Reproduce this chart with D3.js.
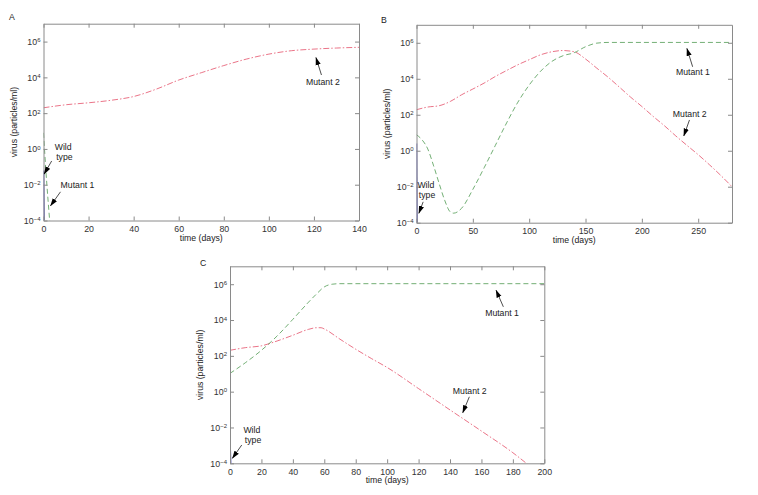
<!DOCTYPE html>
<html>
<head>
<meta charset="utf-8">
<script src="https://cdn.jsdelivr.net/npm/d3@7"></script>
<style>
  body { margin: 0; background: #fff; }
  svg { font-family: "Liberation Sans", Arial, Helvetica, sans-serif; }
  .tick text { fill: #333; font-size: 8.8px; }
  .lbl { fill: #222; font-size: 8.7px; }
</style>
</head>
<body>
<svg id="chart" width="758" height="495"></svg>
<script>
  // y tick exponents (10^n) shared by all panels
  const yExponents = [-4, -2, 0, 2, 4, 6];

  // Panel A : [day, log10 virus]
  const aTicks = [0, 20, 40, 60, 80, 100, 120, 140];
  const aWild = [[0, -1.2], [0.3, -4.1]];
  const aMutant1 = [[0, 0.9], [1, -1.1], [2.8, -4.1]];
  const aMutant2 = [[0, 2.30], [10, 2.47], [20, 2.58], [30, 2.72], [40, 2.93], [50, 3.34], [60, 3.85],
    [70, 4.26], [80, 4.66], [90, 5.02], [100, 5.30], [110, 5.49], [120, 5.58], [130, 5.64], [140, 5.68]];

  // Panel B
  const bTicks = [0, 50, 100, 150, 200, 250];
  const bWild = [[0, 0.4], [0.5, -4.1]];
  const bMutant1 = [[0, 0.89], [5, 0.6], [10, 0.1], [15, -0.8], [20, -1.8], [25, -2.75], [30, -3.4], [33, -3.47],
    [40, -3.2], [50, -2.15], [60, -0.95], [70, 0.3], [80, 1.55], [90, 2.7], [100, 3.65], [110, 4.41],
    [120, 4.96], [130, 5.28], [140, 5.45], [150, 5.78], [160, 5.98], [170, 6.02], [200, 6.02], [280, 6.02]];
  const bMutant2 = [[0, 2.28], [10, 2.43], [20, 2.50], [30, 2.74], [40, 3.11], [50, 3.43], [60, 3.76], [70, 4.13],
    [80, 4.46], [90, 4.78], [100, 5.06], [110, 5.33], [120, 5.50], [130, 5.57], [140, 5.50], [150, 5.10],
    [160, 4.59], [170, 4.09], [180, 3.54], [190, 2.98], [200, 2.46], [210, 1.91], [220, 1.39], [230, 0.83],
    [240, 0.30], [250, -0.22], [260, -0.78], [270, -1.37], [280, -2.0]];

  // Panel C
  const cTicks = [0, 20, 40, 60, 80, 100, 120, 140, 160, 180, 200];
  const cWild = [[0, -2.9], [0.5, -4.1]];
  const cMutant1 = [[0, 1.02], [10, 1.63], [20, 2.31], [30, 3.11], [40, 4.04], [50, 5.0], [55, 5.45], [60, 5.85],
    [65, 6.0], [70, 6.03], [80, 6.03], [200, 6.03]];
  const cMutant2 = [[0, 2.31], [10, 2.46], [20, 2.56], [30, 2.83], [40, 3.15], [50, 3.48], [55, 3.57], [58, 3.57],
    [60, 3.5], [70, 2.93], [80, 2.37], [90, 1.85], [100, 1.35], [120, 0.17], [140, -1.02], [160, -2.2],
    [180, -3.41], [190, -4.1]];

  const colors = { wild: "#6a6ac4", m1: "#4f9a52", m2: "#e4506a" };

  const panels = [
    { letter: "A", xMax: 140, ticks: aTicks, box: [43.5, 359, 23.7, 220.5], letterAt: [9, 20],
      series: { wild: aWild, m1: aMutant1, m2: aMutant2 },
      notes: [
        { lines: ["Wild", "type"], tip: [0.3, -1.4], tail: [7.5, -13], text: [19, -24] },
        { lines: ["Mutant 1"], tip: [3.1, -3.18], tail: [10, -14], text: [27, -17.5] },
        { lines: ["Mutant 2"], tip: [120.9, 5.11], tail: [5.5, 17.5], text: [7, 27.5] }
      ] },
    { letter: "B", xMax: 280, ticks: bTicks, box: [416.5, 732, 24.8, 222.7], letterAt: [381, 23],
      series: { wild: bWild, m1: bMutant1, m2: bMutant2 },
      notes: [
        { lines: ["Wild", "type"], tip: [2.1, -3.48], tail: [4.3, -11.5], text: [7, -25] },
        { lines: ["Mutant 1"], tip: [240, 5.69], tail: [5.7, 18.4], text: [6, 26.5] },
        { lines: ["Mutant 2"], tip: [237.2, 0.82], tail: [5.7, -16], text: [6, -18.7] }
      ] },
    { letter: "C", xMax: 200, ticks: cTicks, box: [230, 544.3, 266.3, 463.3], letterAt: [200, 266],
      series: { wild: cWild, m1: cMutant1, m2: cMutant2 },
      notes: [
        { lines: ["Wild", "type"], tip: [1.5, -3.72], tail: [9.4, -13.3], text: [19.5, -25] },
        { lines: ["Mutant 1"], tip: [169.3, 5.67], tail: [7.3, 16.7], text: [6, 26.3] },
        { lines: ["Mutant 2"], tip: [148.1, -1.18], tail: [6.6, -16], text: [7, -19] }
      ] }
  ];

  const svg = d3.select("#chart");

  svg.append("defs").append("marker")
    .attr("id", "arrow")
    .attr("markerUnits", "userSpaceOnUse")
    .attr("viewBox", "0 -3 8 6")
    .attr("refX", 7.5).attr("refY", 0)
    .attr("markerWidth", 8).attr("markerHeight", 6)
    .attr("orient", "auto")
    .append("path")
    .attr("d", "M0,-2.6L8,0L0,2.6Z")
    .attr("fill", "#000");

  panels.forEach((p, i) => {
    const [left, right, top, bottom] = p.box;
    const x = d3.scaleLinear().domain([0, p.xMax]).range([left, right]);
    const y = d3.scaleLog().domain([1e-4, 1e7]).range([bottom, top]);
    const yTicks = yExponents.map(e => Math.pow(10, e));

    const g = svg.append("g");

    g.append("clipPath").attr("id", "clip" + i)
      .append("rect")
      .attr("x", left).attr("y", top)
      .attr("width", right - left).attr("height", bottom - top);

    // series
    const line = d3.line()
      .x(d => x(d[0]))
      .y(d => y(Math.pow(10, d[1])))
      .curve(d3.curveMonotoneX);

    const lines = g.append("g").attr("clip-path", `url(#clip${i})`);
    lines.append("path").datum(p.series.m2)
      .attr("d", line).attr("fill", "none")
      .attr("stroke", colors.m2).attr("stroke-width", 0.8)
      .attr("stroke-dasharray", "6,2,1.5,2");
    lines.append("path").datum(p.series.m1)
      .attr("d", line).attr("fill", "none")
      .attr("stroke", colors.m1).attr("stroke-width", 0.8)
      .attr("stroke-dasharray", "5,3");
    lines.append("path").datum(p.series.wild)
      .attr("d", line).attr("fill", "none")
      .attr("stroke", colors.wild).attr("stroke-width", 1.6);

    // axes, inward ticks on all four sides
    const axisColor = "#8a8a8a";
    g.append("g")
      .attr("transform", `translate(0,${bottom})`)
      .call(d3.axisBottom(x).tickValues(p.ticks).tickSize(-4).tickSizeOuter(0).tickPadding(5));
    g.append("g")
      .attr("transform", `translate(0,${top})`)
      .call(d3.axisTop(x).tickValues(p.ticks).tickSize(-4).tickSizeOuter(0).tickFormat(""));
    const leftAxis = g.append("g")
      .attr("transform", `translate(${left},0)`)
      .call(d3.axisLeft(y).tickValues(yTicks).tickSize(-4).tickSizeOuter(0).tickPadding(3));
    g.append("g")
      .attr("transform", `translate(${right},0)`)
      .call(d3.axisRight(y).tickValues(yTicks).tickSize(-4).tickSizeOuter(0).tickFormat(""));

    g.selectAll(".domain, .tick line").attr("stroke", axisColor).attr("stroke-width", 1);

    // 10^n labels with superscripts
    leftAxis.selectAll(".tick text").each(function (d) {
      const t = d3.select(this).text(null);
      t.append("tspan").text("10");
      t.append("tspan").attr("dy", "-0.45em").style("font-size", "6px")
        .text(String(Math.round(Math.log10(d))).replace("-", "\u2212"));
    });

    // axis titles
    g.append("text").attr("class", "lbl")
      .attr("x", (left + right) / 2).attr("y", bottom + 20)
      .attr("text-anchor", "middle")
      .text("time (days)");
    g.append("text").attr("class", "lbl")
      .attr("transform", `translate(${left - 27},${(top + bottom) / 2}) rotate(-90)`)
      .attr("text-anchor", "middle")
      .text("virus (particles/ml)");

    g.append("text").attr("class", "lbl")
      .attr("x", p.letterAt[0]).attr("y", p.letterAt[1])
      .text(p.letter);

    // annotations
    p.notes.forEach(n => {
      const tx = x(n.tip[0]), ty = y(Math.pow(10, n.tip[1]));
      g.append("line")
        .attr("x1", tx + n.tail[0]).attr("y1", ty + n.tail[1])
        .attr("x2", tx).attr("y2", ty)
        .attr("stroke", "#000").attr("stroke-width", 0.7)
        .attr("marker-end", "url(#arrow)");
      const txt = g.append("text").attr("class", "lbl")
        .attr("text-anchor", "middle");
      n.lines.forEach((s, k) => {
        txt.append("tspan")
          .attr("x", tx + n.text[0] + (n.lines.length > 1 ? k * 1.2 : 0))
          .attr("y", ty + n.text[1] + k * 10)
          .text(s);
      });
    });
  });
</script>
</body>
</html>
